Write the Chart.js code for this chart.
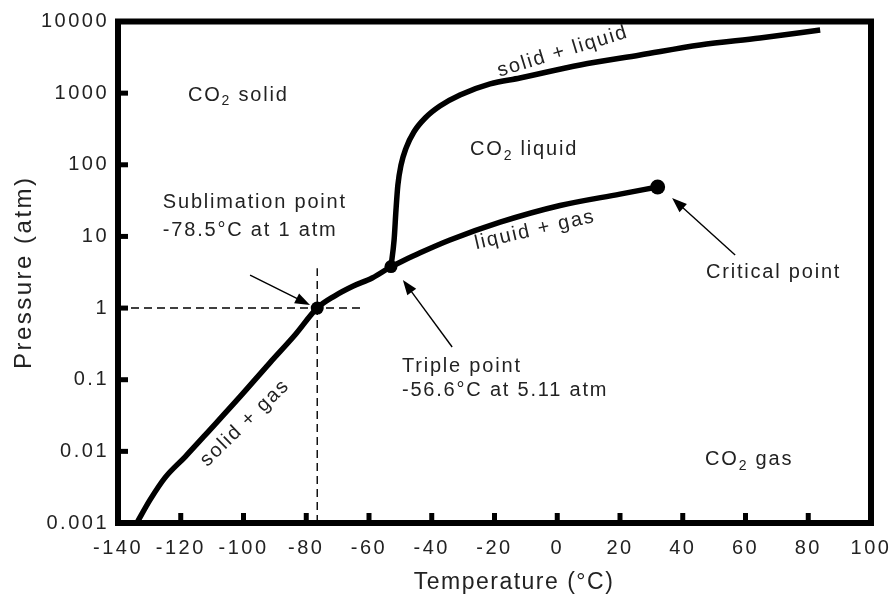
<!DOCTYPE html>
<html><head><meta charset="utf-8">
<script src="https://cdn.jsdelivr.net/npm/chart.js@4.4.1/dist/chart.umd.min.js"></script>
<style>html,body{margin:0;padding:0;background:#fff;}</style>
</head><body>
<canvas id="c" width="894" height="601"></canvas>
<script>
// ---- data ----
const xTicks = [-140,-120,-100,-80,-60,-40,-20,0,20,40,60,80,100];
const yTicks = [0.001,0.01,0.1,1,10,100,1000,10000];
const yTickLabels = ['0.001','0.01','0.1','1','10','100','1000','10000'];

const solidGasT = [-134,-129.8,-125,-118.6,-110.7,-101.1,-91.6,-83.6,-76.5,-71,-65,-59,-53];
const solidGasP = [0.001,0.0021,0.0043,0.0084,0.020,0.058,0.172,0.42,1.0,1.47,2.03,2.63,3.8];

const liquidGasT = [-53,-43.7,-34.2,-18.2,0.9,20,32];
const liquidGasP = [3.8,5.9,8.9,15.8,27,39,49];

const solidLiquidT = [-53,-52,-51.4,-50.8,-49.8,-48.2,-45.7,-42.1,-37.4,-31,-21.4,-11.9,7.3,26.4,45.5,64.6,83.8];
const solidLiquidP = [3.8,8.9,23.4,52,99,171,287,450,661,942,1343,1627,2471,3404,4698,5888,7607];

const pointNames = ['Sublimation point','Triple point','Critical point'];
const pointT = [-76.5,-53,32];
const pointP = [1,3.8,49];

const guideHT = [-140,-61.9];
const guideHP = [1,1];
const guideVT = [-76.5,-76.5];
const guideVP = [0.001,3.6];

// ---- annotation layout (positions in data units) ----
const notes = [
  {text:'CO₂ solid', t:-117.7, p:942},
  {text:'CO₂ liquid', t:-27.8, p:161},
  {text:'CO₂ gas', t:47.1, p:0.0076},
  {text:'Sublimation point', t:-125.7, p:29.3},
  {text:'-78.5°C at 1 atm', t:-125.7, p:12.3},
  {text:'Triple point', t:-49.5, p:0.155},
  {text:'-56.6°C at 5.11 atm', t:-49.5, p:0.0697},
  {text:'Critical point', t:47.4, p:3.18},
  {text:'solid + liquid', t:1.8, p:3800, center:true, rot:-17},
  {text:'liquid + gas', t:-7.1, p:12.3, center:true, rot:-13},
  {text:'solid + gas', t:-99.5, p:0.0249, center:true, rot:-44}
];
const arrows = [
  {from:[-97.9,2.89], to:[-78.8,1.10]},
  {from:[-33.5,0.286], to:[-49.2,2.47]},
  {from:[56.7,5.5], to:[36.6,34.4]}
];
const xTitle = 'Temperature (°C)';
const yTitle = 'Pressure (atm)';

const FONT = '"Liberation Sans", Arial, sans-serif';
const zip = (xs, ys) => xs.map((x,i)=>({x, y:ys[i]}));

const spacing = {
  id:'spacing',
  beforeLayout(chart){ chart.ctx.letterSpacing='2.5px'; },
  beforeDraw(chart){ chart.ctx.letterSpacing='2.5px'; },
  beforeDatasetsDraw(chart){ chart.ctx.letterSpacing='0px'; }
};

function drawRich(ctx, text, x, y, size, center){
  const big = size+'px '+FONT, small = Math.round(size*0.72)+'px '+FONT;
  const parts = text.split('₂');
  const segs = [];
  parts.forEach((p,i)=>{
    if(i>0) segs.push({s:'2', f:small, dy:size*0.32});
    if(p) segs.push({s:p, f:big, dy:0});
  });
  let w=0;
  segs.forEach(s=>{ctx.font=s.f; s.w=ctx.measureText(s.s).width; w+=s.w;});
  let cx = center ? x - w/2 : x;
  ctx.textAlign='left'; ctx.textBaseline='middle';
  segs.forEach(s=>{ctx.font=s.f; ctx.fillText(s.s, cx, y+s.dy); cx+=s.w;});
}

const deco = {
  id:'deco',
  afterDraw(chart){
    const {ctx, chartArea:a, scales:{x, y}} = chart;
    ctx.save();
    ctx.fillStyle='#000'; ctx.strokeStyle='#000';
    // inward tick marks
    ctx.lineWidth=5; ctx.lineCap='butt';
    xTicks.slice(1,-1).forEach(v=>{
      const px=x.getPixelForValue(v);
      ctx.beginPath(); ctx.moveTo(px,a.bottom); ctx.lineTo(px,a.bottom-10); ctx.stroke();
    });
    yTicks.slice(1,-1).forEach(v=>{
      const py=y.getPixelForValue(v);
      ctx.beginPath(); ctx.moveTo(a.left,py); ctx.lineTo(a.left+10,py); ctx.stroke();
    });
    // frame
    ctx.lineWidth=6;
    ctx.strokeRect(a.left,a.top,a.right-a.left,a.bottom-a.top);
    // arrows
    arrows.forEach(ar=>{
      const x0=x.getPixelForValue(ar.from[0]), y0=y.getPixelForValue(ar.from[1]);
      const x1=x.getPixelForValue(ar.to[0]), y1=y.getPixelForValue(ar.to[1]);
      const ang=Math.atan2(y1-y0,x1-x0), L=15, W=5.5;
      ctx.lineWidth=1.4;
      ctx.beginPath(); ctx.moveTo(x0,y0);
      ctx.lineTo(x1-Math.cos(ang)*L*0.8, y1-Math.sin(ang)*L*0.8); ctx.stroke();
      ctx.beginPath();
      ctx.moveTo(x1,y1);
      ctx.lineTo(x1-Math.cos(ang)*L-Math.sin(ang)*W, y1-Math.sin(ang)*L+Math.cos(ang)*W);
      ctx.lineTo(x1-Math.cos(ang)*L+Math.sin(ang)*W, y1-Math.sin(ang)*L-Math.cos(ang)*W);
      ctx.closePath(); ctx.fill();
    });
    // text annotations
    ctx.fillStyle='#222';
    ctx.letterSpacing='1.8px';
    notes.forEach(n=>{
      const px=x.getPixelForValue(n.t), py=y.getPixelForValue(n.p);
      ctx.save();
      ctx.translate(px,py);
      if(n.rot) ctx.rotate(n.rot*Math.PI/180);
      drawRich(ctx, n.text, 0, 0, 20, !!n.center);
      ctx.restore();
    });
    // x axis title
    ctx.letterSpacing='1.5px';
    ctx.font='23px '+FONT; ctx.textAlign='center'; ctx.textBaseline='middle';
    ctx.fillText(xTitle, 514, 583);
    ctx.restore();
  }
};

new Chart(document.getElementById('c'), {
  type:'line',
  data:{
    datasets:[
      {label:'solid + gas', data:zip(solidGasT,solidGasP), borderColor:'#000', borderWidth:5.5, pointRadius:0, cubicInterpolationMode:'monotone', fill:false},
      {label:'liquid + gas', data:zip(liquidGasT,liquidGasP), borderColor:'#000', borderWidth:5.5, pointRadius:0, cubicInterpolationMode:'monotone', fill:false},
      {label:'solid + liquid', data:zip(solidLiquidT,solidLiquidP), borderColor:'#000', borderWidth:5.5, pointRadius:0, cubicInterpolationMode:'monotone', fill:false},
      {label:'guide 1 atm', data:zip(guideHT,guideHP), borderColor:'#000', borderWidth:1.4, borderDash:[8,5], pointRadius:0, fill:false},
      {label:'guide sublimation', data:zip(guideVT,guideVP), borderColor:'#000', borderWidth:1.4, borderDash:[8,5], pointRadius:0, fill:false},
      {label:'points', data:zip(pointT,pointP), showLine:false, pointRadius:[6.5,6.5,7.5], pointBackgroundColor:'#000', pointBorderColor:'#000', pointBorderWidth:0}
    ]
  },
  options:{
    responsive:false, animation:false, devicePixelRatio:1,
    layout:{padding:{left:0, right:23, top:21.5, bottom:0}},
    plugins:{legend:{display:false}, tooltip:{enabled:false}},
    scales:{
      x:{type:'linear', min:-140, max:100,
        afterBuildTicks(s){ s.ticks = xTicks.map(v=>({value:v})); },
        afterFit(s){ s.height = 78; s.paddingLeft = 0; s.paddingRight = 0; },
        grid:{display:false, drawTicks:false}, border:{display:false},
        ticks:{padding:13, color:'#222', font:{family:FONT, size:20}, maxRotation:0, autoSkip:false},
        title:{display:false}
      },
      y:{type:'logarithmic', min:0.001, max:10000,
        afterBuildTicks(s){ s.ticks = yTicks.map(v=>({value:v})); },
        afterFit(s){ s.width = 118; s.paddingTop = 0; s.paddingBottom = 0; },
        grid:{display:false, drawTicks:false}, border:{display:false},
        ticks:{padding:9, color:'#222', font:{family:FONT, size:20}, autoSkip:false,
          callback(v){ const i=yTicks.indexOf(v); return i>=0 ? yTickLabels[i] : ''; }},
        title:{display:true, text:yTitle, color:'#222', font:{family:FONT, size:24}, padding:{top:10,bottom:0}}
      }
    }
  },
  plugins:[spacing, deco]
});
</script>
</body></html>
